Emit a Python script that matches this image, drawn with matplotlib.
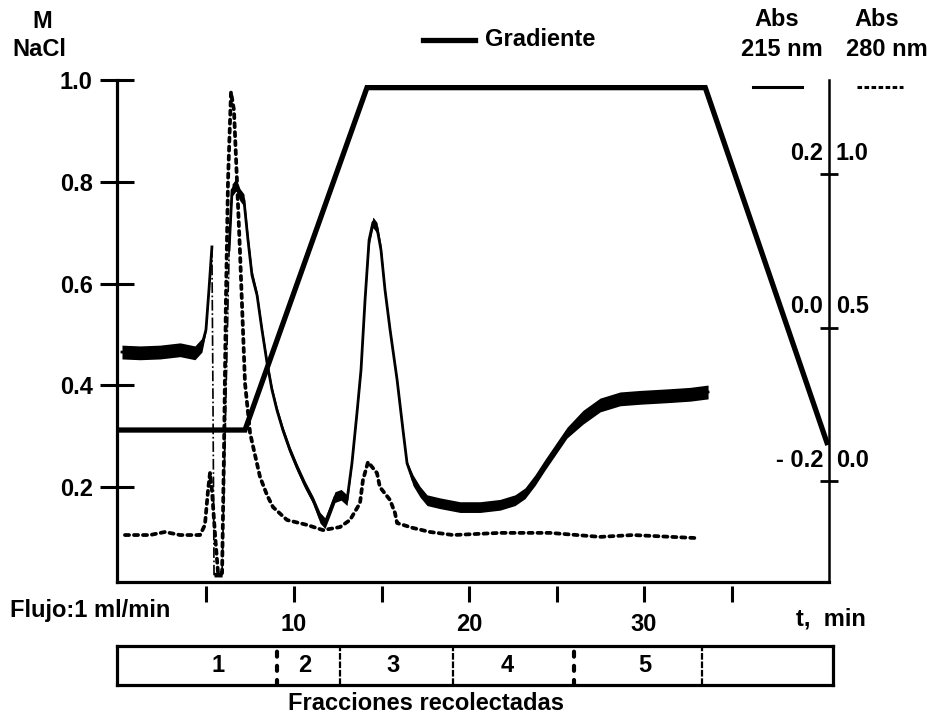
import matplotlib
matplotlib.use('Agg')
import matplotlib.pyplot as plt
from matplotlib.lines import Line2D

plt.rcParams['font.family'] = ['Liberation Sans', 'DejaVu Sans']
plt.rcParams['font.weight'] = 'bold'

# ---------------- data ----------------
# NaCl gradient (left axis, M) vs time (min)
grad_t = [-0.11, 7.2, 14.17, 33.5, 40.5]
grad_M = [0.3125, 0.3125, 0.985, 0.985, 0.283]

# Abs 215 nm trace (solid)
t215 = [0.17, 1.2, 2.34, 3.49, 4.34, 4.74, 4.97, 5.14, 5.31, 5.37,
        5.43, 5.89, 6.11, 6.29, 6.46, 6.69, 6.91, 7.14, 7.37, 7.6,
        7.89, 8.17, 8.46, 8.74, 9.03, 9.37, 9.77, 10.17, 10.63, 11.09,
        11.49, 11.77, 12.06, 12.34, 12.69, 13.03, 13.31, 13.6, 13.83, 14.06,
        14.29, 14.51, 14.74, 14.97, 15.2, 15.49, 15.89, 16.23, 16.46, 16.8,
        17.2, 17.6, 18.34, 19.49, 20.63, 21.77, 22.63, 23.2, 23.77, 24.34,
        24.91, 25.6, 26.51, 27.49, 28.63, 29.77, 31.31, 32.63, 33.66]
a215 = [-0.032, -0.033, -0.032, -0.029, -0.033, -0.023, -0.003, 0.049, 0.105, -0.094,
        -0.322, -0.322, -0.094, 0.101, 0.179, 0.186, 0.173, 0.166, 0.114, 0.068,
        0.042, -0.003, -0.046, -0.081, -0.108, -0.134, -0.160, -0.182, -0.205, -0.225,
        -0.248, -0.255, -0.238, -0.221, -0.218, -0.225, -0.177, -0.111, -0.055, 0.036,
        0.114, 0.137, 0.130, 0.101, 0.049, -0.003, -0.068, -0.134, -0.177, -0.199,
        -0.214, -0.225, -0.229, -0.234, -0.234, -0.231, -0.225, -0.216, -0.199, -0.179,
        -0.160, -0.137, -0.117, -0.101, -0.093, -0.091, -0.089, -0.087, -0.084]
# half-width of the noisy band of the 215 nm trace
n215 = [0.009, 0.009, 0.009, 0.009, 0.009, 0.009, 0.003, 0.003, 0.003, 0.003,
        0.003, 0.003, 0.003, 0.008, 0.008, 0.008, 0.008, 0.008, 0.008, 0.007,
        0.005, 0.005, 0.005, 0.005, 0.005, 0.005, 0.005, 0.005, 0.005, 0.005,
        0.007, 0.007, 0.007, 0.007, 0.007, 0.007, 0.003, 0.003, 0.003, 0.003,
        0.007, 0.007, 0.007, 0.007, 0.003, 0.003, 0.003, 0.003, 0.003, 0.007,
        0.007, 0.007, 0.007, 0.007, 0.007, 0.007, 0.007, 0.007, 0.007, 0.007,
        0.007, 0.007, 0.009, 0.009, 0.009, 0.009, 0.009, 0.009, 0.009]

# Abs 280 nm trace (dotted)
t280 = [0.34, 1.77, 2.63, 3.49, 4.63, 4.91, 5.09, 5.2, 5.31, 5.49,
        5.66, 5.89, 6.0, 6.11, 6.23, 6.4, 6.57, 6.74, 6.91, 7.2,
        7.49, 7.77, 8.06, 8.46, 8.8, 9.6, 10.74, 11.66, 12.63, 13.2,
        13.77, 13.94, 14.23, 14.74, 14.91, 15.49, 15.77, 15.89, 16.8, 17.77,
        19.09, 21.77, 24.63, 27.49, 29.37, 33.03]
a280 = [-0.176, -0.176, -0.166, -0.176, -0.176, -0.143, -0.029, 0.026, -0.029, -0.176,
        -0.300, -0.300, 0.101, 0.590, 0.980, 1.267, 1.208, 0.980, 0.752, 0.319,
        0.156, 0.085, 0.013, -0.046, -0.085, -0.127, -0.143, -0.160, -0.150, -0.127,
        -0.072, 0.003, 0.062, 0.026, -0.020, -0.062, -0.104, -0.137, -0.153, -0.166,
        -0.176, -0.169, -0.169, -0.182, -0.176, -0.186]

left_ticks = [0.2, 0.4, 0.6, 0.8, 1.0]
left_labels = ['0.2', '0.4', '0.6', '0.8', '1.0']
x_ticks = [5, 10, 15, 20, 25, 30, 35]
x_labels = ['', '10', '', '20', '', '30', '']
r280_ticks = [0.0, 0.5, 1.0]
r280_labels = ['0.0', '0.5', '1.0']
r215_ticks = [-0.2, 0.0, 0.2]
r215_labels = ['- 0.2', '0.0', '0.2']

frac_edges = [9.03, 12.63, 19.09, 26.0, 33.31]
frac_styles = ['colon', 'wavy', 'wavy', 'colon', 'wavy']
frac_labels = ['1', '2', '3', '4', '5']
frac_label_t = [5.66, 10.63, 15.66, 22.17, 30.06]

# ---------------- figure ----------------
W, H = 934, 715
fig = plt.figure(figsize=(W / 100, H / 100), dpi=100)


def fx(x):
    return x / W


def fy(y):
    return 1 - y / H


FS = 17
ax = fig.add_axes([fx(117), fy(582), (829 - 117) / W, (582 - 80) / H])
ax.set_xlim(-0.114, 40.57)
ax.set_ylim(0.014, 1.0)
ax.spines['top'].set_visible(False)
ax.spines['left'].set_linewidth(2.3)
ax.spines['bottom'].set_linewidth(2.3)
ax.spines['right'].set_linewidth(1.8)
ax.set_yticks(left_ticks, left_labels)
ax.tick_params(axis='y', direction='inout', length=25, width=2.2, pad=5, labelsize=FS)
ax.tick_params(axis='x', bottom=False, labelbottom=False)

ax.plot(grad_t, grad_M, color='black', lw=3.8, solid_capstyle='butt', solid_joinstyle='miter', zorder=3)

# right axis for Abs 280 nm (with tick marks)
ax280 = ax.twinx()
ax280.set_ylim(-(582 - 481) / 307, (481 - 80) / 307)
for s in ax280.spines.values():
    s.set_visible(False)
ax280.set_yticks(r280_ticks)
ax280.tick_params(axis='y', direction='inout', length=13, width=2, labelright=False)
ax280.plot(t280, a280, color='black', lw=2.7, linestyle=(0, (1.1, 1.3)),
           dash_capstyle='round', zorder=3)

# invisible axis for Abs 215 nm
ax215 = ax.twinx()
ax215.set_ylim(-0.2 - (582 - 481) / 767.5, -0.2 + (481 - 80) / 767.5)
ax215.set_axis_off()
lo = [a - n for a, n in zip(a215, n215)]
hi = [a + n for a, n in zip(a215, n215)]
ax215.fill_between(t215, lo, hi, color='black', lw=0)
ax215.plot(t215[:9], a215[:9], color='black', lw=2.0)
ax215.plot(t215[8:14], a215[8:14], color='black', lw=1.2, linestyle='-.')
ax215.plot(t215[13:], a215[13:], color='black', lw=2.0)

# right tick labels (two scales, one on each side of the axis line)
for v, lab in zip(r280_ticks, r280_labels):
    ax280.annotate(lab, xy=(1, v), xycoords=ax280.get_yaxis_transform(),
                   xytext=(5, 15), textcoords='offset points',
                   ha='left', va='center', fontsize=FS, fontweight='bold')
for v, lab in zip(r215_ticks, r215_labels):
    ax215.annotate(lab, xy=(1, v), xycoords=ax215.get_yaxis_transform(),
                   xytext=(-4, 15), textcoords='offset points',
                   ha='right', va='center', fontsize=FS, fontweight='bold')

# time ticks, drawn slightly below the axis line
sec = ax.secondary_xaxis(-0.008)
sec.spines['bottom'].set_visible(False)
sec.set_xticks(x_ticks, x_labels)
sec.tick_params(direction='out', length=11.5, width=2.2, pad=8, labelsize=FS)

# collected fractions bar
axf = fig.add_axes([fx(117), fy(685), (833 - 117) / W, (685 - 646) / H])
axf.set_xlim(-0.114, (833 - 119) / 17.5)
axf.set_ylim(0, 1)
axf.set_xticks([])
axf.set_yticks([])
for s in axf.spines.values():
    s.set_linewidth(2.3)
for e, st in zip(frac_edges, frac_styles):
    if st == 'colon':
        axf.axvline(e, color='black', lw=3, linestyle=(0, (1.2, 2.2)), dash_capstyle='round')
    else:
        axf.axvline(e, color='black', lw=1.6, linestyle=(0, (3, 0.8)))
for tx, lab in zip(frac_label_t, frac_labels):
    axf.text(tx, 0.5, lab, ha='center', va='center', fontsize=FS, fontweight='bold')

# header texts
fig.text(fx(42), fy(22), 'M', ha='center', va='center', fontsize=FS, fontweight='bold')
fig.text(fx(39), fy(50), 'NaCl', ha='center', va='center', fontsize=FS, fontweight='bold')
fig.text(fx(777), fy(19), 'Abs', ha='center', va='center', fontsize=FS, fontweight='bold')
fig.text(fx(782), fy(50), '215 nm', ha='center', va='center', fontsize=FS, fontweight='bold')
fig.text(fx(877), fy(19), 'Abs', ha='center', va='center', fontsize=FS, fontweight='bold')
fig.text(fx(887), fy(50), '280 nm', ha='center', va='center', fontsize=FS, fontweight='bold')
fig.text(fx(485), fy(40), 'Gradiente', ha='left', va='center', fontsize=FS, fontweight='bold')
fig.add_artist(Line2D([fx(423), fx(475)], [fy(40), fy(40)], lw=3.8, color='black',
                      transform=fig.transFigure))
fig.add_artist(Line2D([fx(753), fx(802)], [fy(87), fy(87)], lw=2.2, color='black',
                      transform=fig.transFigure))
fig.add_artist(Line2D([fx(857), fx(903)], [fy(87), fy(87)], lw=2.2, color='black',
                      linestyle=(0, (1.5, 0.8)), transform=fig.transFigure))

fig.text(fx(10), fy(610), 'Flujo:1 ml/min', ha='left', va='center', fontsize=FS, fontweight='bold')
fig.text(fx(831), fy(619), 't,  min', ha='center', va='center', fontsize=FS, fontweight='bold')
fig.text(fx(426), fy(703), 'Fracciones recolectadas', ha='center', va='center', fontsize=FS,
         fontweight='bold')

fig.savefig('out.png', dpi=100)
